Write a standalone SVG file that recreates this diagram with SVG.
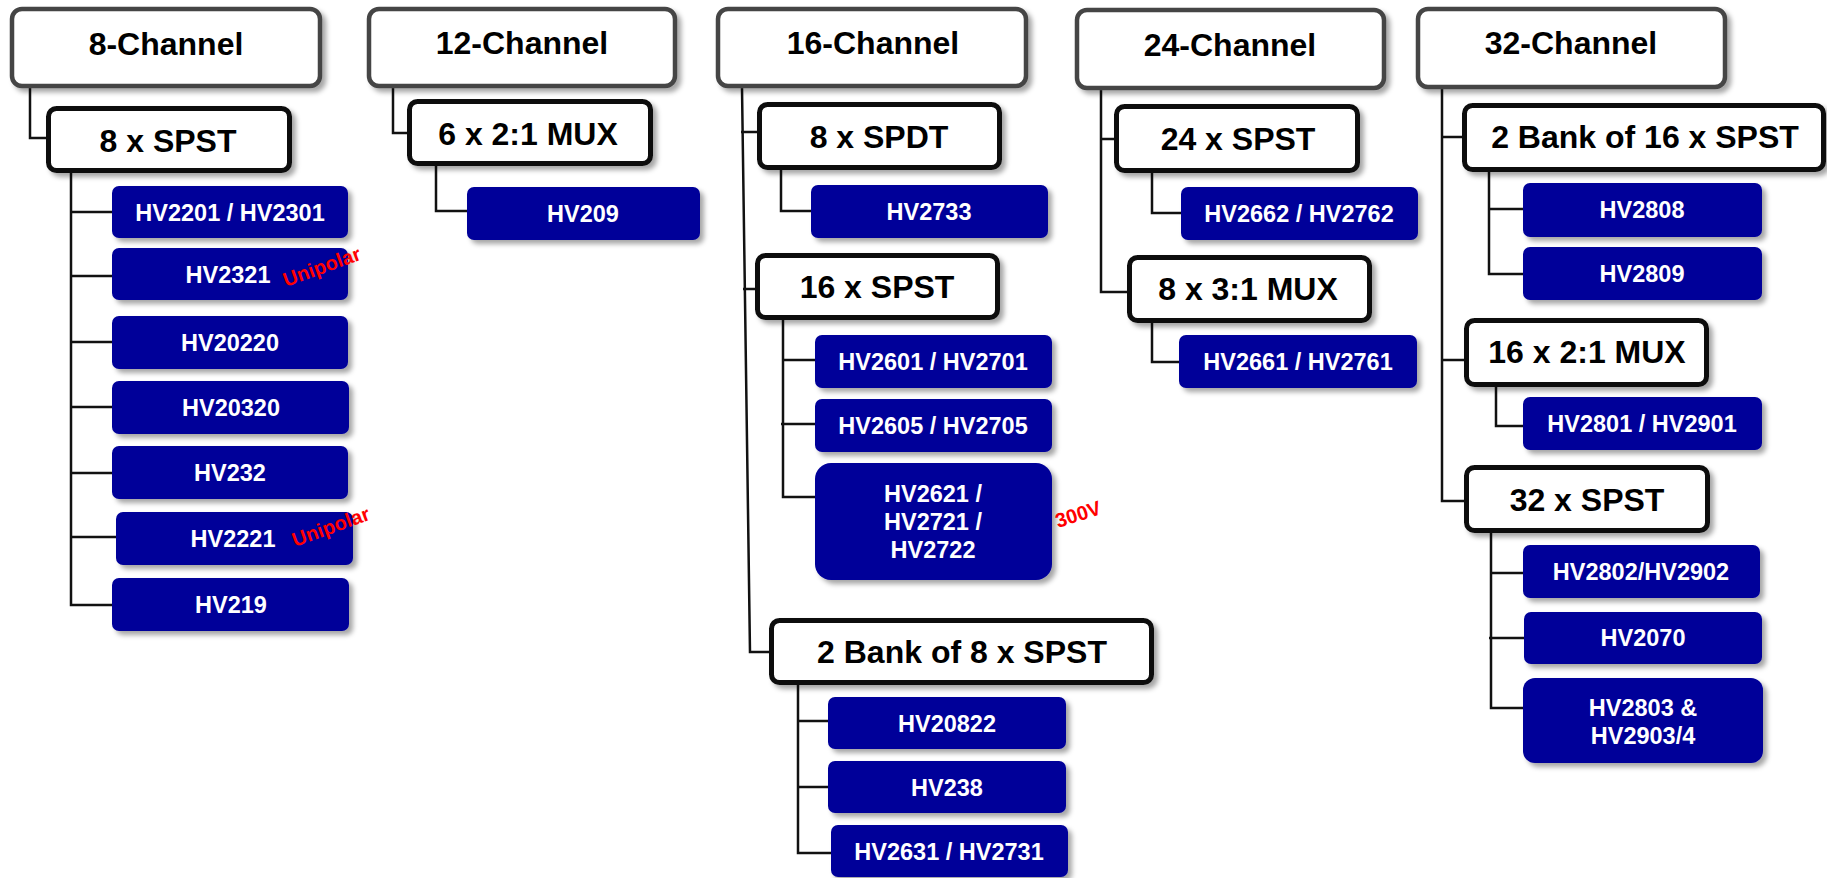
<svg xmlns="http://www.w3.org/2000/svg" width="1827" height="878" viewBox="0 0 1827 878">
<defs>
<filter id="sh" x="-10%" y="-20%" width="130%" height="160%">
<feDropShadow dx="4" dy="4" stdDeviation="2.5" flood-color="#000" flood-opacity="0.35"/>
</filter>
</defs>
<style>
.cat rect{fill:#fff;stroke:#444;stroke-width:4.5;filter:url(#sh)}
.sub rect{fill:#fff;stroke:#0a0a0a;stroke-width:5;filter:url(#sh)}
.part rect{fill:#000099;filter:url(#sh)}
text{font-family:"Liberation Sans",Arial,sans-serif;font-weight:bold;text-anchor:middle}
.cat text,.sub text{font-size:32px;fill:#000}
.part text{font-size:23.5px;fill:#fff}
.part text.note{font-size:20px;fill:#ff0000;text-anchor:start}
#conn path{fill:none;stroke:#111;stroke-width:2.5}
</style>
<rect width="1827" height="878" fill="#fff"/>
<g id="conn">
<path d="M30 88V138H46"/>
<path d="M71 173V605H112M71 212H112M71 276H112M71 342H112M71 407H112M71 473H112M71 537H116"/>
<path d="M393 88V133H407"/>
<path d="M436 166V211H467"/>
<path d="M742 88L750 652H769M741 132H757M743 289H755"/>
<path d="M781 170V211H811"/>
<path d="M783 320V497H815M783 360H815M781 424H815"/>
<path d="M798 685V853H831M798 721H828M798 787H828"/>
<path d="M1101 90V292H1127M1101 139H1114"/>
<path d="M1152 173V213H1181"/>
<path d="M1152 323V362H1179"/>
<path d="M1442 89V501H1464M1442 137H1462M1442 360H1464"/>
<path d="M1489 172V274H1523M1489 209H1523"/>
<path d="M1496 387V426H1523"/>
<path d="M1491 533V708H1523M1491 573H1523M1489 638H1524"/>
</g>
<g id="ch8" class="cat"><rect x="12" y="9" width="308" height="77" rx="10"/><text x="166" y="55">8-Channel</text></g>
<g id="ch12" class="cat"><rect x="369" y="9" width="306" height="77" rx="10"/><text x="522" y="54">12-Channel</text></g>
<g id="ch16" class="cat"><rect x="718" y="9" width="308" height="77" rx="10"/><text x="873" y="54">16-Channel</text></g>
<g id="ch24" class="cat"><rect x="1077" y="10" width="307" height="78" rx="10"/><text x="1230" y="56">24-Channel</text></g>
<g id="ch32" class="cat"><rect x="1418" y="9" width="307" height="78" rx="10"/><text x="1571" y="54">32-Channel</text></g>

<g id="s8spst" class="sub"><rect x="48.5" y="108.5" width="241" height="62" rx="8"/><text x="168" y="152">8 x SPST</text></g>
<g id="s6mux" class="sub"><rect x="409.5" y="101.5" width="241" height="62" rx="8"/><text x="528" y="145">6 x 2:1 MUX</text></g>
<g id="s8spdt" class="sub"><rect x="759.5" y="104.5" width="240" height="63" rx="8"/><text x="879" y="148">8 x SPDT</text></g>
<g id="s16spst" class="sub"><rect x="757.5" y="255.5" width="240" height="62" rx="8"/><text x="877" y="298">16 x SPST</text></g>
<g id="s2b8" class="sub"><rect x="771.5" y="620.5" width="380" height="62" rx="8"/><text x="962" y="663">2 Bank of 8 x SPST</text></g>
<g id="s24spst" class="sub"><rect x="1116.5" y="106.5" width="241" height="64" rx="8"/><text x="1238" y="150">24 x SPST</text></g>
<g id="s8mux" class="sub"><rect x="1129.5" y="257.5" width="240" height="63" rx="8"/><text x="1248" y="300">8 x 3:1 MUX</text></g>
<g id="s2b16" class="sub"><rect x="1464.5" y="105.5" width="359" height="64" rx="8"/><text x="1645" y="148">2 Bank of 16 x SPST</text></g>
<g id="s16mux" class="sub"><rect x="1466.5" y="320.5" width="240" height="64" rx="8"/><text x="1587" y="363">16 x 2:1 MUX</text></g>
<g id="s32spst" class="sub"><rect x="1466.5" y="467.5" width="241" height="63" rx="8"/><text x="1587" y="511">32 x SPST</text></g>

<g id="p2201" class="part"><rect x="112" y="186" width="236" height="52" rx="7"/><text x="230" y="221">HV2201 / HV2301</text></g>
<g id="p2321" class="part"><rect x="112" y="248" width="236" height="52" rx="7"/><text x="228" y="283">HV2321</text><text class="note" transform="translate(286 287) rotate(-20)">Unipolar</text></g>
<g id="p20220" class="part"><rect x="112" y="316" width="236" height="53" rx="7"/><text x="230" y="351">HV20220</text></g>
<g id="p20320" class="part"><rect x="112" y="381" width="237" height="53" rx="7"/><text x="231" y="416">HV20320</text></g>
<g id="p232" class="part"><rect x="112" y="446" width="236" height="53" rx="7"/><text x="230" y="481">HV232</text></g>
<g id="p2221" class="part"><rect x="116" y="512" width="237" height="53" rx="7"/><text x="233" y="547">HV2221</text><text class="note" transform="translate(295 547) rotate(-20)">Unipolar</text></g>
<g id="p219" class="part"><rect x="112" y="578" width="237" height="53" rx="7"/><text x="231" y="613">HV219</text></g>
<g id="p209" class="part"><rect x="467" y="187" width="233" height="53" rx="7"/><text x="583" y="222">HV209</text></g>
<g id="p2733" class="part"><rect x="811" y="185" width="237" height="53" rx="7"/><text x="929" y="220">HV2733</text></g>
<g id="p2601" class="part"><rect x="815" y="335" width="237" height="53" rx="7"/><text x="933" y="370">HV2601 / HV2701</text></g>
<g id="p2605" class="part"><rect x="815" y="399" width="237" height="53" rx="7"/><text x="933" y="434">HV2605 / HV2705</text></g>
<g id="p2621" class="part"><rect x="815" y="463" width="237" height="117" rx="16"/><text x="933" y="502">HV2621 /</text><text x="933" y="530">HV2721 /</text><text x="933" y="558">HV2722</text><text class="note" transform="translate(1058 528) rotate(-18)">300V</text></g>
<g id="p20822" class="part"><rect x="828" y="697" width="238" height="52" rx="7"/><text x="947" y="732">HV20822</text></g>
<g id="p238" class="part"><rect x="828" y="761" width="238" height="52" rx="7"/><text x="947" y="796">HV238</text></g>
<g id="p2631" class="part"><rect x="831" y="825" width="237" height="52" rx="7"/><text x="949" y="860">HV2631 / HV2731</text></g>
<g id="p2662" class="part"><rect x="1181" y="187" width="237" height="53" rx="7"/><text x="1299" y="222">HV2662 / HV2762</text></g>
<g id="p2661" class="part"><rect x="1179" y="335" width="238" height="53" rx="7"/><text x="1298" y="370">HV2661 / HV2761</text></g>
<g id="p2808" class="part"><rect x="1523" y="183" width="239" height="54" rx="7"/><text x="1642" y="218">HV2808</text></g>
<g id="p2809" class="part"><rect x="1523" y="247" width="239" height="53" rx="7"/><text x="1642" y="282">HV2809</text></g>
<g id="p2801" class="part"><rect x="1523" y="397" width="239" height="53" rx="7"/><text x="1642" y="432">HV2801 / HV2901</text></g>
<g id="p2802" class="part"><rect x="1523" y="545" width="237" height="53" rx="7"/><text x="1641" y="580">HV2802/HV2902</text></g>
<g id="p2070" class="part"><rect x="1524" y="612" width="238" height="52" rx="7"/><text x="1643" y="646">HV2070</text></g>
<g id="p2803" class="part"><rect x="1523" y="678" width="240" height="85" rx="12"/><text x="1643" y="716">HV2803 &amp;</text><text x="1643" y="744">HV2903/4</text></g>
</svg>
